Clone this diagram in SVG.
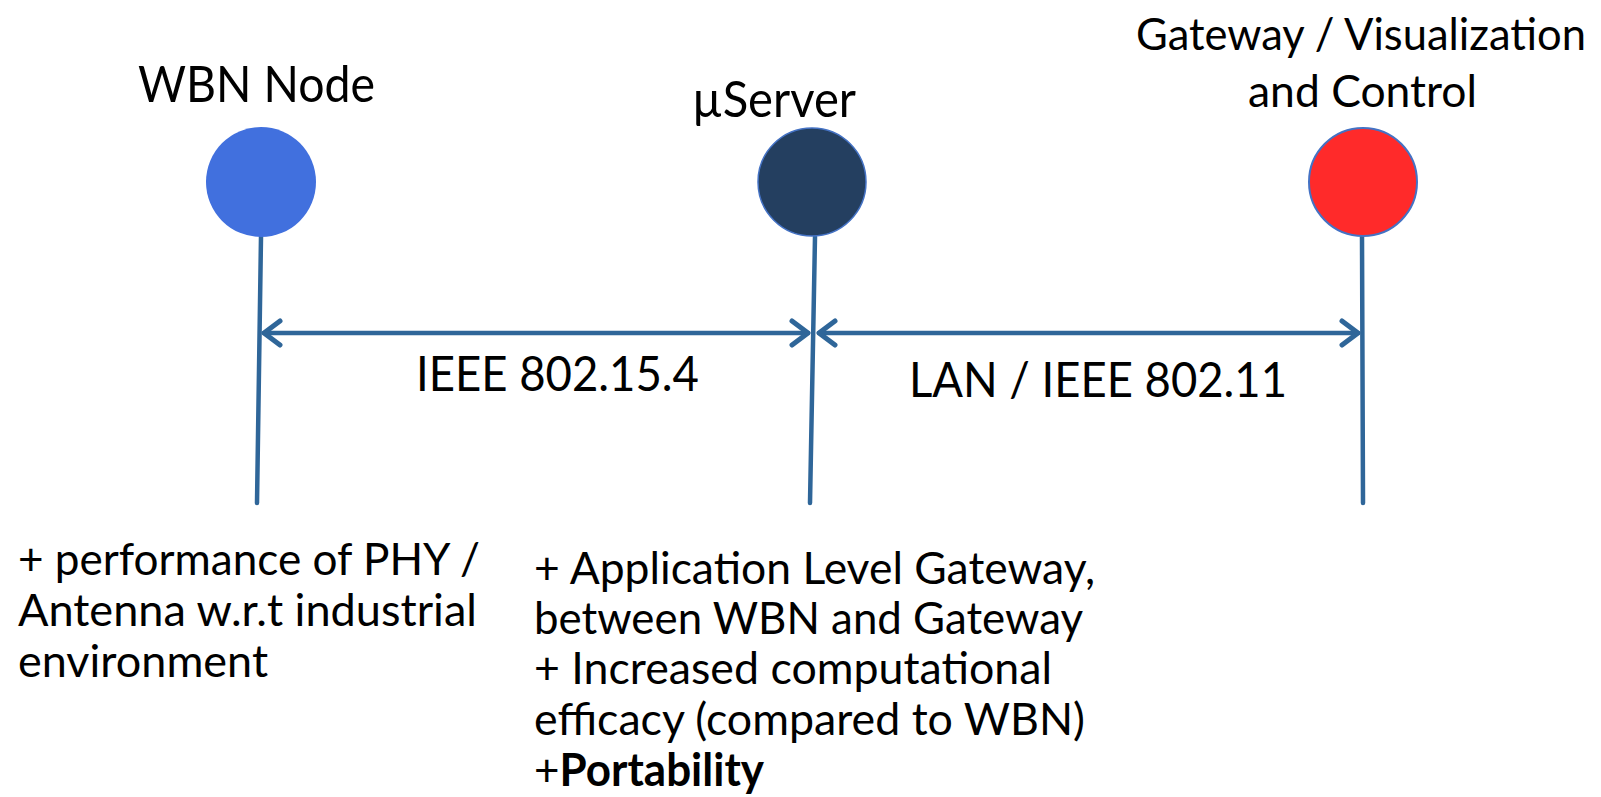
<svg xmlns="http://www.w3.org/2000/svg" width="1601" height="797" viewBox="0 0 1601 797">
<defs>
<style>
text{font-family:Lato,"Open Sans","Liberation Sans",sans-serif;fill:#000}
.big{font-size:51px}
.gw{font-size:45px}
.lbl{font-size:49px}
.note{font-size:45px}
.wire{stroke:#2F6699;stroke-width:4.5;fill:none;stroke-linecap:round}
.head{stroke:#2F6699;stroke-width:5;fill:none;stroke-linecap:round;stroke-linejoin:round}
</style>
</defs>
<rect width="1601" height="797" fill="#fff"/>
<g id="connectors">
<line class="wire" x1="261" y1="237" x2="257" y2="503"/>
<line class="wire" x1="815" y1="237" x2="810" y2="503"/>
<line class="wire" x1="1362" y1="237" x2="1363" y2="503"/>
<line class="wire" x1="264" y1="333" x2="808" y2="333"/>
<path class="head" d="M280,321 L264,333 L280,345"/>
<path class="head" d="M792,321 L808,333 L792,345"/>
<line class="wire" x1="819" y1="333" x2="1358" y2="333"/>
<path class="head" d="M835,321 L819,333 L835,345"/>
<path class="head" d="M1342,321 L1358,333 L1342,345"/>
<text class="lbl" x="416" y="391" textLength="283" lengthAdjust="spacingAndGlyphs">IEEE 802.15.4</text>
<text class="lbl" x="909" y="397" textLength="378" lengthAdjust="spacingAndGlyphs">LAN / IEEE 802.11</text>
</g>
<g id="wbn-node">
<circle cx="261" cy="182" r="55" fill="#4170DE"/>
<text class="big" x="138" y="102" textLength="237" lengthAdjust="spacingAndGlyphs">WBN Node</text>
<text class="note" x="18" y="575" textLength="462" lengthAdjust="spacingAndGlyphs">+ performance of PHY /</text>
<text class="note" x="18" y="626" textLength="459" lengthAdjust="spacingAndGlyphs">Antenna w.r.t industrial</text>
<text class="note" x="18" y="677" textLength="250" lengthAdjust="spacingAndGlyphs">environment</text>
</g>
<g id="userver">
<circle cx="812" cy="182" r="54" fill="#243F60" stroke="#4472C4" stroke-width="1.5"/>
<text class="big" x="692" y="117" textLength="164" lengthAdjust="spacingAndGlyphs">µServer</text>
<text class="note" x="534" y="584" textLength="561" lengthAdjust="spacingAndGlyphs">+ Application Level Gateway,</text>
<text class="note" x="534" y="634" textLength="549" lengthAdjust="spacingAndGlyphs">between WBN and Gateway</text>
<text class="note" x="534" y="684" textLength="518" lengthAdjust="spacingAndGlyphs">+ Increased computational</text>
<text class="note" x="534" y="735" textLength="551" lengthAdjust="spacingAndGlyphs">efficacy (compared to WBN)</text>
<text class="note" x="534" y="786" textLength="230" lengthAdjust="spacingAndGlyphs">+<tspan font-weight="bold">Portability</tspan></text>
</g>
<g id="gateway">
<circle cx="1363" cy="182" r="54" fill="#FF2A2A" stroke="#4472C4" stroke-width="2"/>
<text class="gw" x="1136" y="50" textLength="450" lengthAdjust="spacingAndGlyphs">Gateway / Visualization</text>
<text class="gw" x="1248" y="107" textLength="229" lengthAdjust="spacingAndGlyphs">and Control</text>
</g>
</svg>
